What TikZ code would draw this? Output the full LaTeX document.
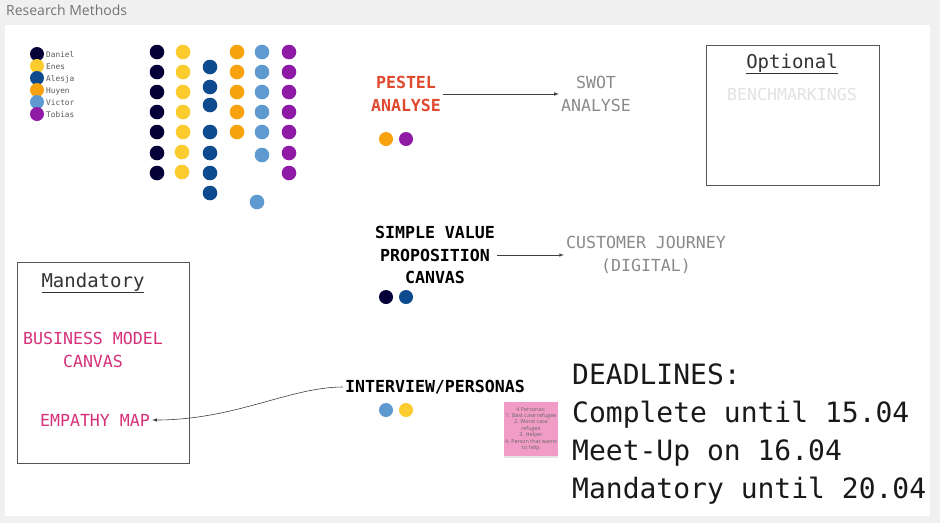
\documentclass[tikz,border=0pt]{standalone}
\usepackage{fontspec}
\setmainfont{Open Sans}
\setmonofont{DejaVu Sans Mono}
\usetikzlibrary{positioning,shadows}

\definecolor{daniel}{HTML}{050038}
\definecolor{enes}{HTML}{FCCB2E}
\definecolor{alesja}{HTML}{0D4A8E}
\definecolor{huyen}{HTML}{F8A20D}
\definecolor{victor}{HTML}{5E9ACF}
\definecolor{tobias}{HTML}{8E1AA6}
\definecolor{pestelred}{HTML}{E04A2F}
\definecolor{mandpink}{HTML}{D6307A}
\definecolor{softgray}{HTML}{8A8A8A}
\definecolor{palegray}{HTML}{E2E2E2}
\definecolor{boxgray}{HTML}{555555}
\definecolor{sticky}{HTML}{F19CC6}
\definecolor{canvasbg}{HTML}{F0F0F0}

\begin{document}
\begin{tikzpicture}[x=1pt, y=-1pt,
    label/.style={font=\ttfamily\fontsize{16.6}{22.5}\selectfont, align=center, inner sep=2pt},
    boldlabel/.style={label, font=\ttfamily\bfseries\fontsize{16.6}{22.5}\selectfont},
    heading/.style={font=\ttfamily\fontsize{19}{22}\selectfont, text=black!80, inner sep=0pt},
    link/.style={-latex, black!75, line width=0.6pt}]
    % canvas and frame
    \fill[canvasbg] (0,0) rectangle (940,523);
    \fill[white] (5,25) rectangle (930,516);
    \node[anchor=west, font=\fontsize{14}{16}\selectfont, text=black!55, inner sep=0pt] (title) at (6,10) {Research Methods};

    % legend
    \foreach \who/\col [count=\i from 0] in {Daniel/daniel, Enes/enes, Alesja/alesja, Huyen/huyen, Victor/victor, Tobias/tobias} {
        \fill[\col] (37,54+12*\i) circle (7pt);
        \node[anchor=west, font=\ttfamily\fontsize{7.8}{9}\selectfont, text=black!65, inner sep=0pt] (leg\who) at (46,55+12*\i) {\who};
    }

    % votes
    \foreach \col/\x/\ys in {daniel/157/{52,72,92,112,132,153,173}, enes/183/{52,72,92,112,132}, enes/182/{152,172},
            alesja/210/{67,87,105,132,153,173,193}, huyen/237/{52,72,92,112,132}, victor/262/{52,72,92,112,132,155},
            victor/257/{202}, tobias/289/{52,72,92,112,132,153,173}} {
        \foreach \y in \ys {
            \fill[\col] (\x,\y) circle (7.3pt);
        }
    }

    % pestel
    \node[boldlabel, text=pestelred] (pestel) at (406,94) {PESTEL\\ANALYSE};
    \node[label, text=softgray] (swot) at (596,94) {SWOT\\ANALYSE};
    \draw[link] (pestel) -- (swot);
    \fill[huyen] (386,139) circle (7pt);
    \fill[tobias] (406,139) circle (7pt);

    % optional
    \draw[boxgray, line width=0.9pt] (706,45) rectangle (879,185);
    \node[heading] (optional) at (792,64) {\underline{Optional}};
    \node[label, text=palegray] (bench) at (792,94) {BENCHMARKINGS};

    % value proposition
    \node[boldlabel] (svp) at (435,255) {SIMPLE VALUE\\PROPOSITION\\CANVAS};
    \node[label, text=softgray] (journey) at (646,255) {CUSTOMER JOURNEY\\(DIGITAL)};
    \draw[link] (svp) -- (journey);
    \fill[daniel] (386,297) circle (7pt);
    \fill[alesja] (406,297) circle (7pt);

    % mandatory
    \draw[boxgray, line width=0.9pt] (17,262) rectangle (189,463);
    \node[heading] (mandatory) at (93,283) {\underline{Mandatory}};
    \node[label, text=mandpink] (bmc) at (93,350) {BUSINESS MODEL\\CANVAS};
    \node[label, text=mandpink] (empathy) at (95,420) {EMPATHY MAP};

    % interview
    \node[boldlabel] (interview) at (435,387) {INTERVIEW/PERSONAS};
    \draw[link] (interview.west) .. controls (290,387) and (235,420) .. (empathy.east);
    \fill[victor] (386,410) circle (7pt);
    \fill[enes] (406,410) circle (7pt);

    % sticky note
    \node[fill=sticky, minimum width=54pt, minimum height=54pt, inner sep=0pt,
        drop shadow={shadow xshift=0pt, shadow yshift=-2pt, opacity=0.2}] (note) at (531,429) {};
    \node[font=\fontsize{5.4}{6.4}\selectfont, text=black!60, align=center, inner sep=0pt] (notetext) at (note) {4 Personas:\\1. Best case refugee\\2. Worst case\\refugee\\3. Helper\\4. Person that wants\\to help};

    % deadlines
    \node[anchor=west, font=\ttfamily\fontsize{28}{38.3}\selectfont, text=black!90, align=left, inner sep=0pt] (deadlines) at (572,434)
        {DEADLINES:\\Complete until 15.04\\Meet-Up on 16.04\\Mandatory until 20.04};
\end{tikzpicture}
\end{document}
